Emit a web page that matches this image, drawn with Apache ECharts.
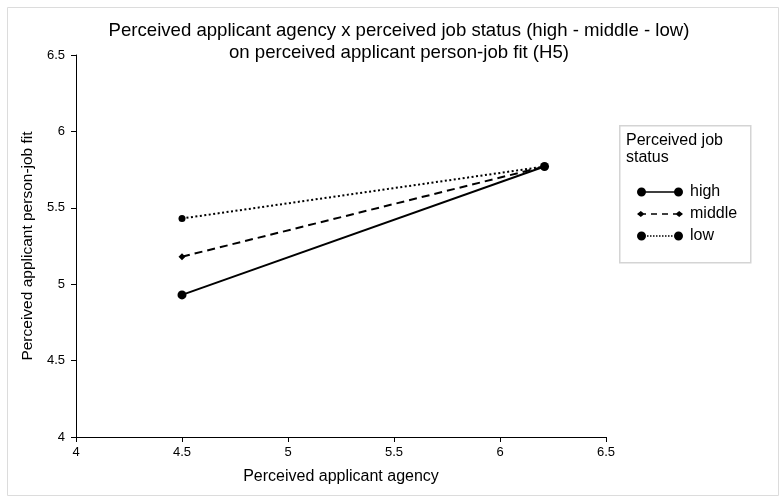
<!DOCTYPE html>
<html>
<head>
<meta charset="utf-8">
<script src="https://cdn.jsdelivr.net/npm/echarts@6/dist/echarts.min.js"></script>
<style>
  html, body { margin: 0; padding: 0; background: #fff; }
  #chart { width: 782px; height: 499px; }
</style>
</head>
<body>
<div id="chart"></div>
<script>
// Simple-slopes data: fitted person-job fit at low / high applicant agency
const agencyLevels = [4.5, 6.21];
const fitHigh = [4.93, 5.77];
const fitMiddle = [5.18, 5.77];
const fitLow = [5.43, 5.77];
const seriesNames = ['high', 'middle', 'low'];
const axisTicks = [4, 4.5, 5, 5.5, 6, 6.5];

const FONT = '"Liberation Sans", Arial, sans-serif';

function pairs(ys) {
  return agencyLevels.map((x, i) => [x, ys[i]]);
}

// --- legend glyph helpers: a stroke with a marker at each end (46 x 10 box) ---
function disc(cx, cy, r) {
  let d = '';
  for (let k = 0; k < 16; k++) {
    const a = (k / 16) * Math.PI * 2;
    d += (k === 0 ? 'M' : 'L') + (cx + r * Math.cos(a)).toFixed(2) + ',' + (cy + r * Math.sin(a)).toFixed(2);
  }
  return d + 'Z';
}
function bar(x0, x1, h) {
  return 'M' + x0 + ',' + (5 - h / 2) + 'L' + x1 + ',' + (5 - h / 2) + 'L' + x1 + ',' + (5 + h / 2) + 'L' + x0 + ',' + (5 + h / 2) + 'Z';
}
function diamond(cx, rx, ry) {
  return 'M' + (cx - rx) + ',5L' + cx + ',' + (5 - ry) + 'L' + (cx + rx) + ',5L' + cx + ',' + (5 + ry) + 'Z';
}
const bounds = 'M0,0L0.01,0Z M46,10L45.99,10Z';
const iconHigh = 'path://' + bounds + disc(4.5, 5, 4.5) + bar(4, 42, 1.6) + disc(41.5, 5, 4.5);
let midPath = bounds + diamond(3.8, 3.8, 3) + diamond(42.2, 3.8, 3) + bar(5, 9, 1.5);
[[14, 20], [25, 31]].forEach(s => { midPath += bar(s[0], s[1], 1.5); });
midPath += bar(36, 41, 1.5);
const iconMiddle = 'path://' + midPath;
let lowPath = bounds + disc(4.5, 5, 4.5) + disc(41.5, 5, 4.5);
for (let x = 10; x < 36; x += 3) lowPath += bar(x, x + 1.5, 1.3);
const iconLow = 'path://' + lowPath;

const chart = echarts.init(document.getElementById('chart'), null, { renderer: 'canvas' });

chart.setOption({
  animation: false,
  backgroundColor: '#fff',
  textStyle: { fontFamily: FONT, color: '#000' },
  title: {
    text: 'Perceived applicant agency x perceived job status (high - middle - low)\non perceived applicant person-job fit (H5)',
    left: 394,
    top: 15,
    textAlign: 'center',
    textStyle: { fontFamily: FONT, fontSize: 18.6, fontWeight: 'normal', color: '#000', lineHeight: 22 }
  },
  graphic: [
    {
      type: 'rect', left: 5, top: 5, silent: true,
      shape: { width: 771, height: 488 },
      style: { fill: 'none', stroke: '#dcdcdc', lineWidth: 1 }
    },
    {
      type: 'rect', left: 619, top: 125, silent: true,
      shape: { width: 131, height: 137 },
      style: { fill: '#fff', stroke: '#d4d4d4', lineWidth: 1.5 }
    },
    {
      type: 'text', left: 626, top: 132, silent: true,
      style: { text: 'Perceived job\nstatus', font: '16px ' + FONT, fill: '#000', lineHeight: 17 }
    }
  ],
  legend: {
    orient: 'vertical',
    left: 632,
    top: 179,
    itemWidth: 46,
    itemHeight: 10,
    itemGap: 6,
    textStyle: { fontFamily: FONT, fontSize: 16, color: '#000', padding: [0, 0, 0, 2] },
    data: [
      { name: 'high', icon: iconHigh },
      { name: 'middle', icon: iconMiddle },
      { name: 'low', icon: iconLow }
    ],
    itemStyle: { color: '#000', borderWidth: 0 },
    lineStyle: { width: 0 }
  },
  grid: { left: 76, right: 176, top: 55, bottom: 62 },
  xAxis: {
    type: 'value',
    min: axisTicks[0],
    max: axisTicks[axisTicks.length - 1],
    interval: 0.5,
    name: 'Perceived applicant agency',
    nameLocation: 'middle',
    nameGap: 32,
    nameTextStyle: { fontFamily: FONT, fontSize: 16, color: '#000' },
    axisLine: { lineStyle: { color: '#000', width: 1 } },
    axisTick: { show: true, length: 5, lineStyle: { color: '#000' } },
    axisLabel: { fontFamily: FONT, fontSize: 13, color: '#000', margin: 9 },
    splitLine: { show: false }
  },
  yAxis: {
    type: 'value',
    min: axisTicks[0],
    max: axisTicks[axisTicks.length - 1],
    interval: 0.5,
    name: 'Perceived applicant person-job fit',
    nameLocation: 'middle',
    nameGap: 36,
    nameTextStyle: { fontFamily: FONT, fontSize: 15.5, color: '#000' },
    axisLine: { show: true, lineStyle: { color: '#000', width: 1 } },
    axisTick: { show: true, length: 5, lineStyle: { color: '#000' } },
    axisLabel: { fontFamily: FONT, fontSize: 13, color: '#000', margin: 11 },
    splitLine: { show: false }
  },
  series: [
    {
      name: seriesNames[0], type: 'line', data: pairs(fitHigh),
      symbol: 'circle', symbolSize: 9, z: 3,
      lineStyle: { color: '#000', width: 2, type: 'solid' },
      itemStyle: { color: '#000' }
    },
    {
      name: seriesNames[1], type: 'line', data: pairs(fitMiddle),
      symbol: 'diamond', symbolSize: 7, z: 2,
      lineStyle: { color: '#000', width: 2, type: [8, 5] },
      itemStyle: { color: '#000' }
    },
    {
      name: seriesNames[2], type: 'line', data: pairs(fitLow),
      symbol: 'circle', symbolSize: 7, z: 2,
      lineStyle: { color: '#000', width: 2, type: [2, 2.5] },
      itemStyle: { color: '#000' }
    }
  ]
});
</script>
</body>
</html>
